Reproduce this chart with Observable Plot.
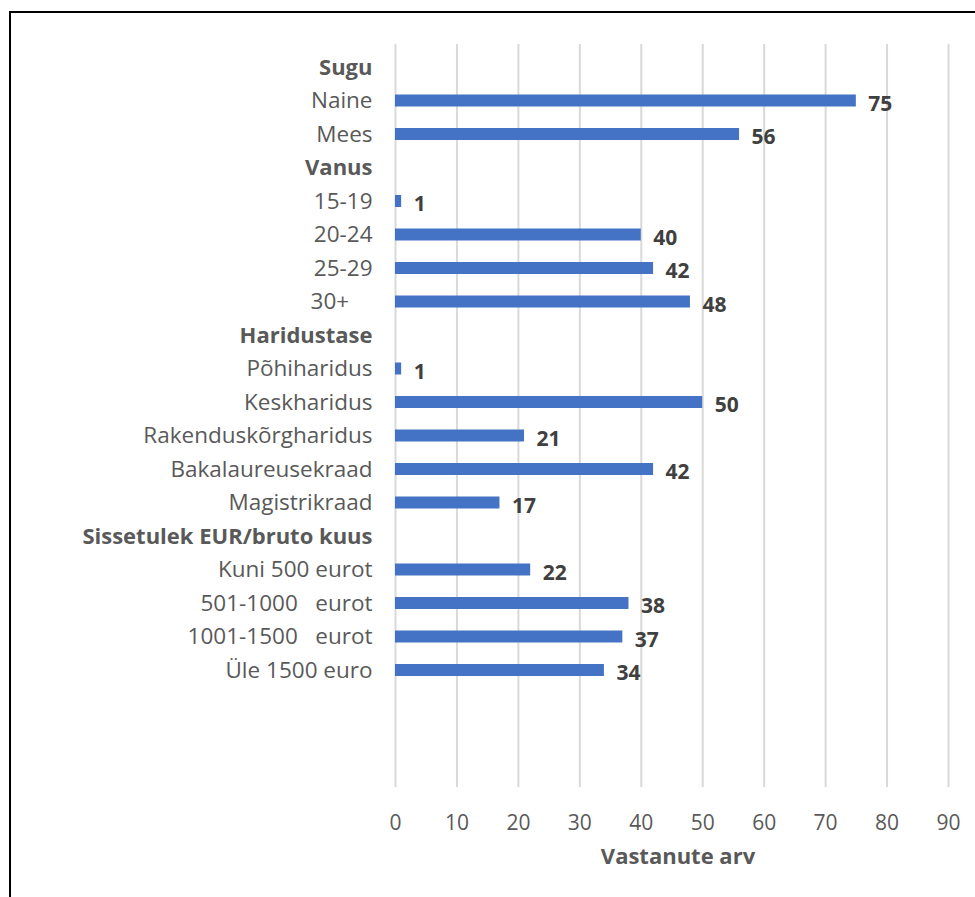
<!DOCTYPE html>
<html>
<head>
<meta charset="utf-8">
<script src="https://cdn.jsdelivr.net/npm/d3@7"></script>
<script src="https://cdn.jsdelivr.net/npm/@observablehq/plot@0.6"></script>
<style>
  html, body { margin: 0; padding: 0; background: #fff; }
  #wrap { position: relative; width: 975px; height: 897px; overflow: hidden; }
  #chart svg { display: block; }
  #frame {
    position: absolute; left: 9px; top: 11px; width: 1200px; height: 1200px;
    border-top: 2.5px solid #000; border-left: 2.5px solid #000;
    box-sizing: border-box; pointer-events: none;
  }
</style>
</head>
<body>
<div id="wrap">
  <div id="chart"></div>
  <div id="frame"></div>
</div>
<script>
// Respondent profile: group headings and the categories under each
const groups = ["Sugu", "Vanus", "Haridustase", "Sissetulek EUR/bruto kuus"];
const categories = [
  "Naine", "Mees",
  "15-19", "20-24", "25-29", "30+    ",
  "Põhiharidus", "Keskharidus", "Rakenduskõrgharidus", "Bakalaureusekraad", "Magistrikraad",
  "Kuni 500 eurot", "501-1000   eurot", "1001-1500   eurot", "Üle 1500 euro"
];
const categoryGroup = [0, 0, 1, 1, 1, 1, 2, 2, 2, 2, 2, 3, 3, 3, 3];
const values = [75, 56, 1, 40, 42, 48, 1, 50, 21, 42, 17, 22, 38, 37, 34];
const xTicks = [0, 10, 20, 30, 40, 50, 60, 70, 80, 90];
const axisTitle = "Vastanute arv";

// Row order: each heading followed by its categories
const rowOrder = groups.flatMap((g, gi) => [g, ...categories.filter((_, i) => categoryGroup[i] === gi)]);
const rows = categories.map((c, i) => ({label: c, value: values[i]}));

const labelColor = "#595959";

const chart = Plot.plot({
  width: 975,
  height: 897,
  marginLeft: 395,
  marginRight: 27,
  marginTop: 44,
  marginBottom: 110,
  style: {fontFamily: "'Open Sans', sans-serif", background: "transparent"},
  x: {domain: [0, 90], axis: null},
  y: {domain: rowOrder, range: [50.25, 686.75], padding: 0, round: false, axis: null},
  marks: [
    Plot.ruleX(xTicks, {stroke: "#d9d9d9", strokeWidth: 2}),
    Plot.barX(rows, {x: "value", y: "label", fill: "#4472C4", insetTop: 10.75, insetBottom: 10.75}),
    Plot.text(rows, {
      x: "value", y: "label", text: d => String(d.value),
      textAnchor: "start", dx: 12, dy: 3,
      fontWeight: "bold", fontSize: 21, fill: "#404040"
    }),
    Plot.axisY(categories, {tickSize: 0, tickPadding: 23, fontSize: 22.5, color: labelColor, label: null}),
    Plot.axisY(groups, {tickSize: 0, tickPadding: 23, fontSize: 22, fontWeight: "bold", color: labelColor, label: null}),
    Plot.axisX(xTicks, {tickSize: 0, tickPadding: 28, fontSize: 21, color: labelColor, label: null}),
    Plot.text([axisTitle], {frameAnchor: "bottom", dy: 76, dx: 6, fontWeight: "bold", fontSize: 22, fill: labelColor})
  ]
});

document.getElementById("chart").append(chart);
</script>
</body>
</html>
